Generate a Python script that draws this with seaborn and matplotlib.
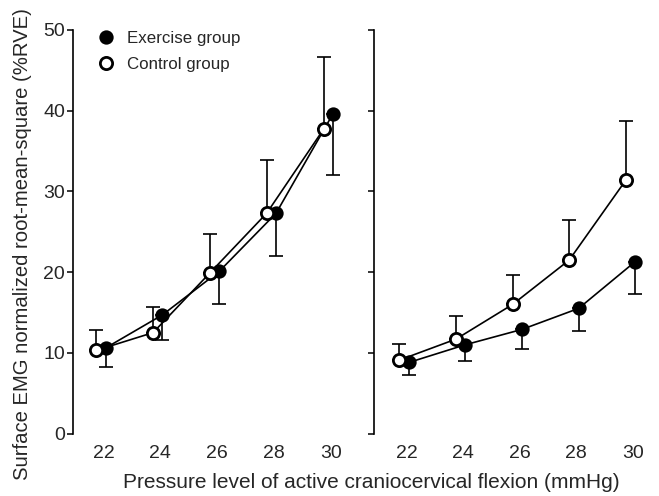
import matplotlib
matplotlib.use("Agg")
import matplotlib.pyplot as plt
import seaborn as sns
import numpy as np
from matplotlib.lines import Line2D

sns.set_theme(style="white")
plt.rcParams['font.family'] = ['Liberation Sans', 'DejaVu Sans']

pressure = [22, 24, 26, 28, 30]

# Left panel
left_ex_mean = [10.6, 14.7, 20.1, 27.3, 39.6]
left_ex_lower = [8.3, 11.6, 16.0, 22.0, 32.0]
left_ct_mean = [10.3, 12.5, 19.9, 27.3, 37.7]
left_ct_upper = [12.8, 15.7, 24.7, 33.9, 46.7]

# Right panel
right_ex_mean = [8.8, 11.0, 12.9, 15.5, 21.3]
right_ex_lower = [7.2, 9.0, 10.5, 12.7, 17.3]
right_ct_mean = [9.1, 11.7, 16.0, 21.5, 31.4]
right_ct_upper = [11.1, 14.5, 19.7, 26.4, 38.7]

yticks = [0, 10, 20, 30, 40, 50]

W, H = 659, 496
fig = plt.figure(figsize=(W / 100, H / 100), dpi=100)
axL = fig.add_axes([72.7 / W, 62.5 / H, 283.5 / W, 403.5 / H])
axR = fig.add_axes([374 / W, 62.5 / H, 283 / W, 403.5 / H])

ms = 8.8
lw = 1.2
ex_off = 0.08
ct_off = -0.25
tick_fs = 14


def draw(ax, ex_m, ex_lo, ct_m, ct_hi):
    x = np.array(pressure, dtype=float)
    ex_m = np.array(ex_m); ct_m = np.array(ct_m)
    # one-sided error bars
    ax.errorbar(x + ex_off, ex_m, yerr=[ex_m - np.array(ex_lo), np.zeros_like(ex_m)],
                fmt='none', ecolor='black', elinewidth=lw, capsize=5, capthick=lw, zorder=1)
    ax.errorbar(x + ct_off, ct_m, yerr=[np.zeros_like(ct_m), np.array(ct_hi) - ct_m],
                fmt='none', ecolor='black', elinewidth=lw, capsize=5, capthick=lw, zorder=1)
    sns.lineplot(x=x + ex_off, y=ex_m, ax=ax, color='black', linewidth=lw, marker='o',
                 markersize=ms, markerfacecolor='black', markeredgecolor='black',
                 markeredgewidth=1.5, zorder=3)
    sns.lineplot(x=x + ct_off, y=ct_m, ax=ax, color='black', linewidth=lw, marker='o',
                 markersize=ms, markerfacecolor='white', markeredgecolor='black',
                 markeredgewidth=2.0, zorder=4)
    ax.set_ylim(0, 50)
    ax.set_yticks(yticks)
    ax.set_xticks(pressure)
    ax.set_xticklabels([str(p) for p in pressure], fontsize=tick_fs)
    for s in ['top', 'right', 'bottom']:
        ax.spines[s].set_visible(False)
    ax.spines['left'].set_color('black')
    ax.spines['left'].set_linewidth(1.2)
    ax.tick_params(axis='y', which='both', left=True, direction='out', length=4,
                   width=1.1, color='black', labelsize=tick_fs, pad=1.5)
    ax.tick_params(axis='x', bottom=False, labelsize=tick_fs, pad=2.5)
    ax.set_xlabel('')
    ax.set_ylabel('')
    ax.grid(False)


draw(axL, left_ex_mean, left_ex_lower, left_ct_mean, left_ct_upper)
draw(axR, right_ex_mean, right_ex_lower, right_ct_mean, right_ct_upper)

axL.set_xlim(20.92, 30.9)
axR.set_xlim(20.85, 30.85)
axR.set_yticklabels([])

handles = [
    Line2D([], [], linestyle='none', marker='o', color='black', markersize=ms,
           markerfacecolor='black', markeredgewidth=1.5),
    Line2D([], [], linestyle='none', marker='o', color='black', markersize=ms,
           markerfacecolor='white', markeredgewidth=2.0),
]
axL.legend(handles, ['Exercise group', 'Control group'], loc='upper left',
           bbox_to_anchor=(0.02, 1.035), frameon=False, fontsize=12.2,
           handletextpad=0.45, labelspacing=0.62, handlelength=1.5)

fig.text(371 / W, 1 - 483 / H, 'Pressure level of active craniocervical flexion (mmHg)',
         ha='center', va='center', fontsize=15)
fig.text(23 / W, 1 - 244 / H, 'Surface EMG normalized root-mean-square (%RVE)',
         ha='center', va='center', rotation=90, fontsize=14.6)

fig.savefig('out.png', dpi=100, facecolor='white')
